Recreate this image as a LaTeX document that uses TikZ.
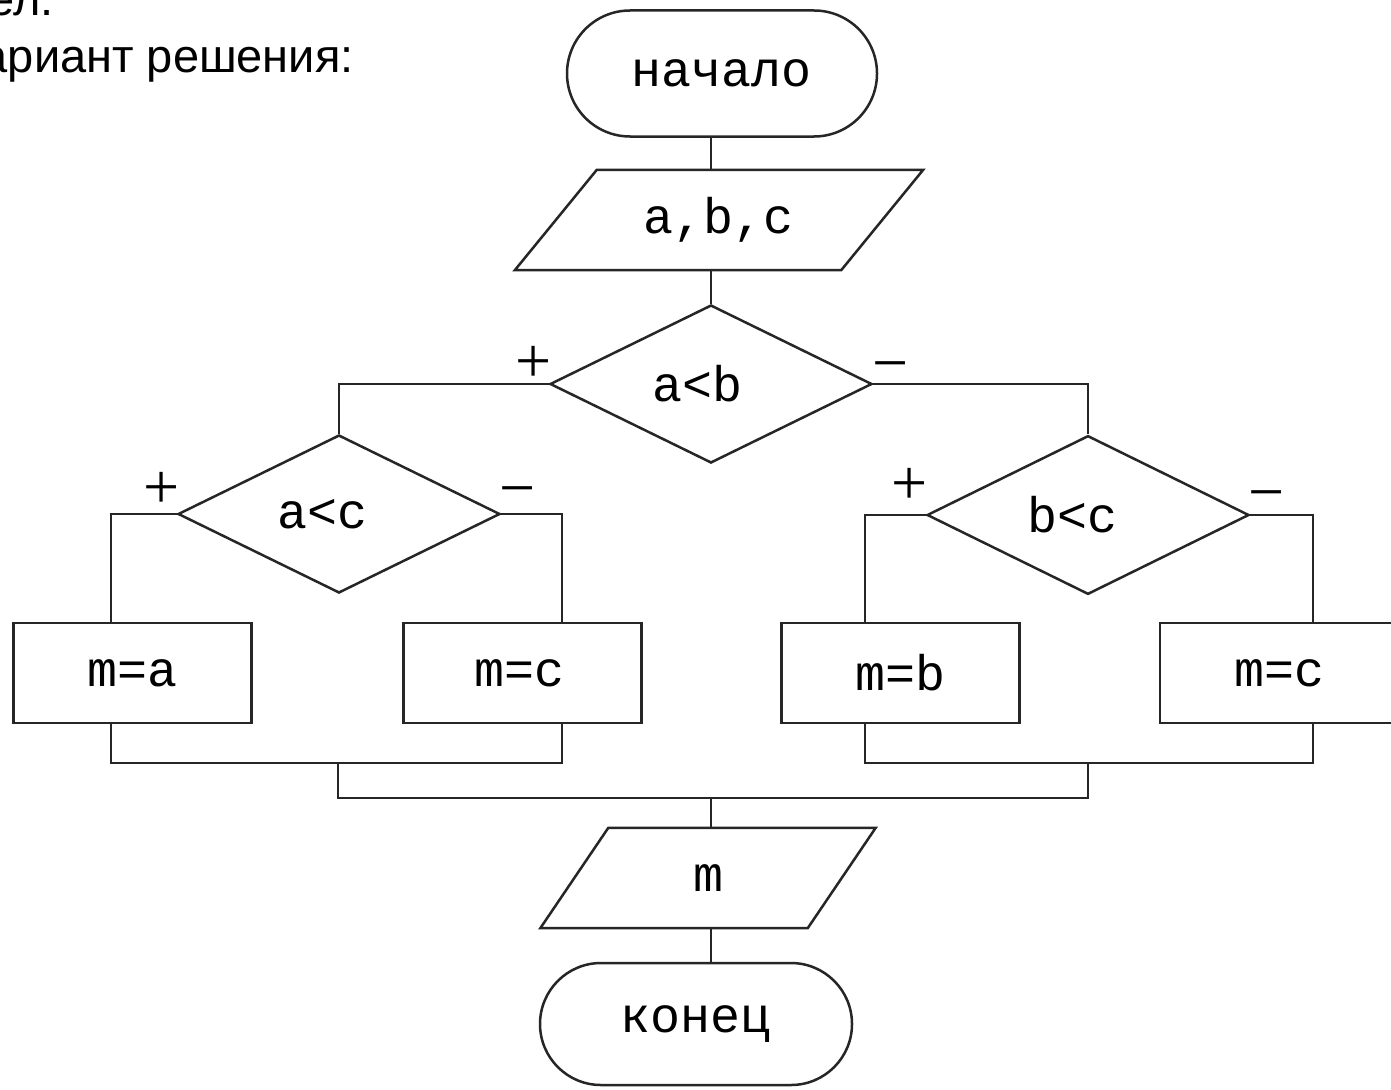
\documentclass[tikz,border=0pt]{standalone}
\usepackage{fontspec}
\setmainfont{Liberation Sans}
\newfontfamily\flowfont{Liberation Mono}
\newfontfamily\signfont{Liberation Serif}
\usetikzlibrary{shapes.geometric,shapes.misc}

\begin{document}
\begin{tikzpicture}[x=1pt,y=-1pt,
  conn/.style={line width=2.5pt, draw=black!85},
  flowtext/.style={font=\flowfont\fontsize{50}{50}\selectfont},
  term/.style={rounded rectangle, conn, flowtext, inner sep=0pt,
    minimum width=310, minimum height=126},
  dec/.style={diamond, conn, flowtext, inner sep=0pt,
    minimum width=322, minimum height=158},
  proc/.style={rectangle, conn, flowtext, inner sep=0pt,
    minimum width=238, minimum height=100},
  io/.style={rectangle, flowtext, inner sep=0pt, minimum height=100},
  sign/.style={font=\signfont\fontsize{64}{64}\selectfont, inner sep=0pt, anchor=base},
  slide/.style={font=\fontsize{47}{47}\selectfont, inner sep=0pt, anchor=base east}
]
\useasboundingbox (0,0) rectangle (1391,1089);
\clip (0,0) rectangle (1391,1089);
\fill[white] (0,0) rectangle (1391,1089);

% slide text above the chart
\node[slide] (t1) at (54,16) {чисел.};
\node[slide] (t2) at (354,73) {Вариант решения:};

% blocks
\node[term] (start) at (722,73.5) {начало};
\node[io, minimum width=326] (abc) at (719,220) {a,b,c};
\node[dec] (ab) at (711,384) {a<b\kern28pt};
\node[dec] (ac) at (339,514) {a<c\kern32pt};
\node[dec] (bc) at (1088,515) {b<c\kern32pt};
\node[proc] (ma) at (132.5,673) {m=a};
\node[proc] (mc1) at (522.5,673) {m=c\kern6pt};
\node[proc] (mb) at (900.5,673) {m=b};
\node[proc] (mc2) at (1279,673) {m=c};
\node[io, minimum width=267] (out) at (708,878) {m};
\node[term, minimum width=312, minimum height=122] (stop) at (696,1024) {конец};

% parallelogram outlines of the input/output blocks
\draw[conn] ([xshift=-41]abc.south west) -- ([xshift=41]abc.north west)
  -- ([xshift=41]abc.north east) -- ([xshift=-41]abc.south east) -- cycle;
\draw[conn] ([xshift=-34]out.south west) -- ([xshift=34]out.north west)
  -- ([xshift=34]out.north east) -- ([xshift=-34]out.south east) -- cycle;

% branch labels (baseline placed so the sign sits on its centre point)
\node[sign] (p1) at (534,382) {+};
\node[sign] (n1) at (891,384) {−};
\node[sign] (p2) at (162,508) {+};
\node[sign] (n2) at (518,509) {−};
\node[sign] (p3) at (910,504) {+};
\node[sign] (n3) at (1267,513) {−};

% junction points
\coordinate (jl) at (338,763);
\coordinate (jr) at (1088,763);
\coordinate (jm) at (711,798);

% connectors
\draw[conn] (ab.north |- start.south) -- (ab.north |- abc.north);
\draw[conn] (ab.north |- abc.south) -- (ab.north);
\draw[conn] (ab.west) -| (ac.north);
\draw[conn] (ab.east) -| (bc.north);
\draw[conn] (ac.west) -| ([xshift=-21.5]ma.north);
\draw[conn] (ac.east) -| ([xshift=39.5]mc1.north);
\draw[conn] (bc.west) -| ([xshift=-35.5]mb.north);
\draw[conn] (bc.east) -| ([xshift=34]mc2.north);
\draw[conn] ([xshift=-21.5]ma.south) |- (jl) -| ([xshift=39.5]mc1.south);
\draw[conn] ([xshift=-35.5]mb.south) |- (jr) -| ([xshift=34]mc2.south);
\draw[conn] (jl) |- (jm) -| (jr);
\draw[conn] (jm) -- (jm |- out.north);
\draw[conn] (jm |- out.south) -- (jm |- stop.north);
\end{tikzpicture}
\end{document}
